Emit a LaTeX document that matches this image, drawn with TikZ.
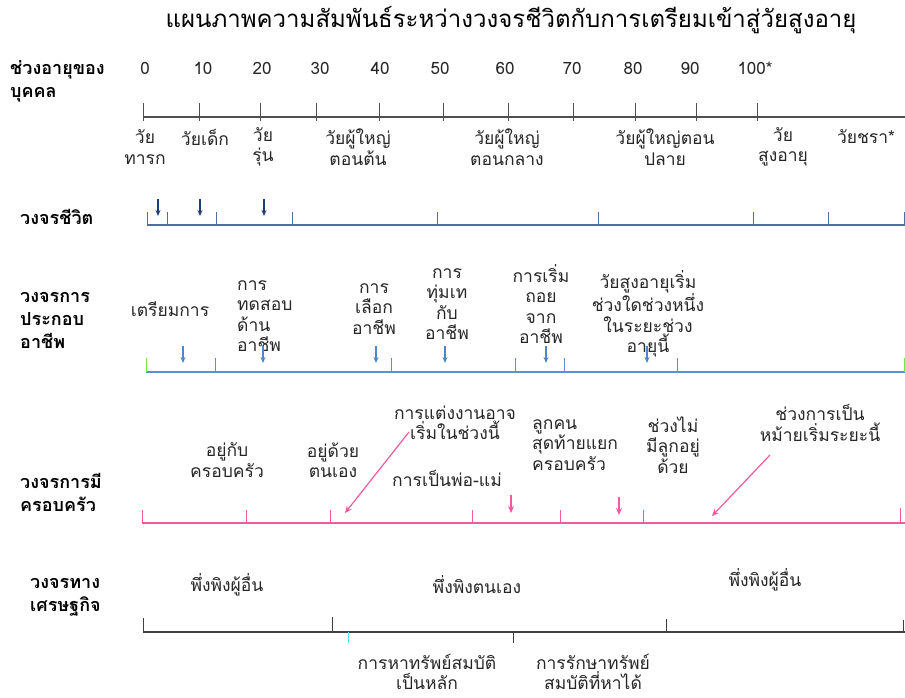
\documentclass[tikz,border=0pt]{standalone}
\usepackage{fontspec}
\setmainfont[Script=Thai]{Loma}
\usetikzlibrary{arrows.meta}
\definecolor{axisgrey}{HTML}{505050}
\definecolor{lifeline}{HTML}{4F6F9F}
\definecolor{lifearrow}{HTML}{1F3F70}
\definecolor{careerline}{HTML}{5B8FD0}
\definecolor{careerarrow}{HTML}{4A86C8}
\definecolor{famline}{HTML}{F05AA0}
\definecolor{tickgreen}{HTML}{7CE050}
\definecolor{tickcyan}{HTML}{60E0F0}
\definecolor{econline}{HTML}{404040}
\tikzset{
  lbl/.style={font=\fontsize{17.5}{20.5}\selectfont, align=center, inner sep=0pt, text=black!85},
  num/.style={font=\fontsize{17}{18}\selectfont, inner sep=0pt, text=black!85},
  rowhead/.style={font=\bfseries\fontsize{18}{23}\selectfont, align=left, anchor=west, inner sep=0pt},
  titlestyle/.style={font=\fontsize{24}{26}\selectfont, inner sep=0pt},
  lifearr/.style={lifearrow, line width=1.2pt, -{Stealth[length=6pt,width=5pt]}},
  careerarr/.style={careerarrow, line width=1.2pt, -{Stealth[length=6pt,width=5pt]}},
  famarr/.style={famline, line width=1.2pt, -{Stealth[length=7pt,width=6pt]}},
}
\begin{document}
\begin{tikzpicture}[x=1pt,y=-1pt]
\useasboundingbox (0,0) rectangle (905,698);
% title
\node[titlestyle] (title) at (511,20) {แผนภาพความสัมพันธ์ระหว่างวงจรชีวิตกับการเตรียมเข้าสู่วัยสูงอายุ};

% row 1: ages
\node[rowhead] (h1) at (10,81) {ช่วงอายุของ\\บุคคล};
\foreach \x/\t [count=\i] in {145/0,203/10,262/20,320/30,380/40,440/50,505/60,572/70,633/80,690/90,755/100*}
  \node[num] (n\i) at (\x,68) {\t};
\draw[axisgrey, line width=1.1pt] (143,117) -- (905,117);
\foreach \x in {143,199,260,316,379,443,508,573,635,696,757}
  \draw[axisgrey, line width=1pt] (\x,103) -- (\x,121);

\node[lbl] (s1) at (145,147) {วัย\\ทารก};
\node[lbl] (s2) at (205,137) {วัยเด็ก};
\node[lbl] (s3) at (263,147) {วัย\\รุ่น};
\node[lbl] (s4) at (358,147) {วัยผู้ใหญ่\\ตอนต้น};
\node[lbl] (s5) at (507,147) {วัยผู้ใหญ่\\ตอนกลาง};
\node[lbl] (s6) at (665,147) {วัยผู้ใหญ่ตอน\\ปลาย};
\node[lbl] (s7) at (783,147) {วัย\\สูงอายุ};
\node[lbl] (s8) at (866,137) {วัยชรา*};

% row 2: life cycle
\node[rowhead] (h2) at (20,217) {วงจรชีวิต};
\draw[lifeline, line width=1.1pt] (147,225) -- (905,225);
\foreach \x in {147,167,216,292,437,598,753,828,904}
  \draw[lifeline, line width=1pt] (\x,212) -- (\x,225);
\foreach \x [count=\i] in {158,200,264}{
  \coordinate (la\i) at (\x,199);
  \coordinate (lb\i) at (\x,216);
  \draw[lifearr] (la\i) -- (lb\i);
}

% row 3: career cycle
\node[rowhead] (h3) at (20,320) {วงจรการ\\ประกอบ\\อาชีพ};
\draw[careerline, line width=1.1pt] (146,372) -- (905,372);
\foreach \x in {215,391,515,564,677}
  \draw[careerline, line width=1pt] (\x,358) -- (\x,372);
\draw[tickgreen, line width=1pt] (146,358) -- (146,372);
\draw[tickgreen, line width=1pt] (904,358) -- (904,372);
\node[lbl] (c1) at (170,309) {เตรียมการ};
\node[lbl, align=left, anchor=west] (c2) at (237,316) {การ\\ทดสอบ\\ด้าน\\อาชีพ};
\node[lbl] (c3) at (374,309) {การ\\เลือก\\อาชีพ};
\node[lbl] (c4) at (447,304) {การ\\ทุ่มเท\\กับ\\อาชีพ};
\node[lbl] (c5) at (541,304) {การเริ่ม\\ถอย\\จาก\\อาชีพ};
\node[lbl] (c6) at (648,314) {วัยสูงอายุเริ่ม\\ช่วงใดช่วงหนึ่ง\\ในระยะช่วง\\อายุนี้};
\foreach \x [count=\i] in {183,263,376,445,546,647}{
  \coordinate (ca\i) at (\x,346);
  \coordinate (cb\i) at (\x,363);
  \draw[careerarr] (ca\i) -- (cb\i);
}

% row 4: family cycle
\node[rowhead] (h4) at (20,492) {วงจรการมี\\ครอบครัว};
\draw[famline, line width=1.1pt] (142,523) -- (905,523);
\foreach \x in {142,246,330,472,560,643}
  \draw[famline, line width=1pt] (\x,510) -- (\x,523);
\draw[famline, line width=1pt] (900,508) -- (900,523);
\node[lbl] (f1) at (227,460) {อยู่กับ\\ครอบครัว};
\node[lbl] (f2) at (333,460) {อยู่ด้วย\\ตนเอง};
\node[lbl] (f3) at (455,423) {การแต่งงานอาจ\\เริ่มในช่วงนี้};
\node[lbl] (f4) at (447,478) {การเป็นพ่อ-แม่};
\node[lbl, align=left, anchor=west] (f5) at (532,445) {ลูกคน\\สุดท้ายแยก\\ครอบครัว};
\node[lbl] (f6) at (673,445) {ช่วงไม่\\มีลูกอยู่\\ด้วย};
\node[lbl] (f7) at (820,423) {ช่วงการเป็น\\หม้ายเริ่มระยะนี้};
\coordinate (fa1) at (409,432);
\coordinate (fb1) at (345,513);
\draw[famarr] (fa1) -- (fb1);
\coordinate (fa2) at (511,495);
\coordinate (fb2) at (511,513);
\draw[famarr] (fa2) -- (fb2);
\coordinate (fa3) at (619,497);
\coordinate (fb3) at (619,515);
\draw[famarr] (fa3) -- (fb3);
\coordinate (fa4) at (770,455);
\coordinate (fb4) at (712,516);
\draw[famarr] (fa4) -- (fb4);

% row 5: economic cycle
\node[rowhead] (h5) at (30,597) {วงจรทาง\\เศรษฐกิจ};
\draw[econline, line width=1.1pt] (143,632) -- (905,632);
\foreach \x/\t in {143/618,332/617,666/619,903/620}
  \draw[econline, line width=1pt] (\x,\t) -- (\x,632);
\draw[econline, line width=1pt] (513,632) -- (513,643);
\draw[tickcyan, line width=1pt] (348,632) -- (348,643);
\node[lbl] (e1) at (227,585) {พึ่งพิงผู้อื่น};
\node[lbl] (e2) at (477,585) {พึ่งพิงตนเอง};
\node[lbl] (e3) at (765,580) {พึ่งพิงผู้อื่น};
\node[lbl] (e4) at (427,672) {การหาทรัพย์สมบัติ\\เป็นหลัก};
\node[lbl] (e5) at (593,672) {การรักษาทรัพย์\\สมบัติที่หาได้};
\end{tikzpicture}
\end{document}
